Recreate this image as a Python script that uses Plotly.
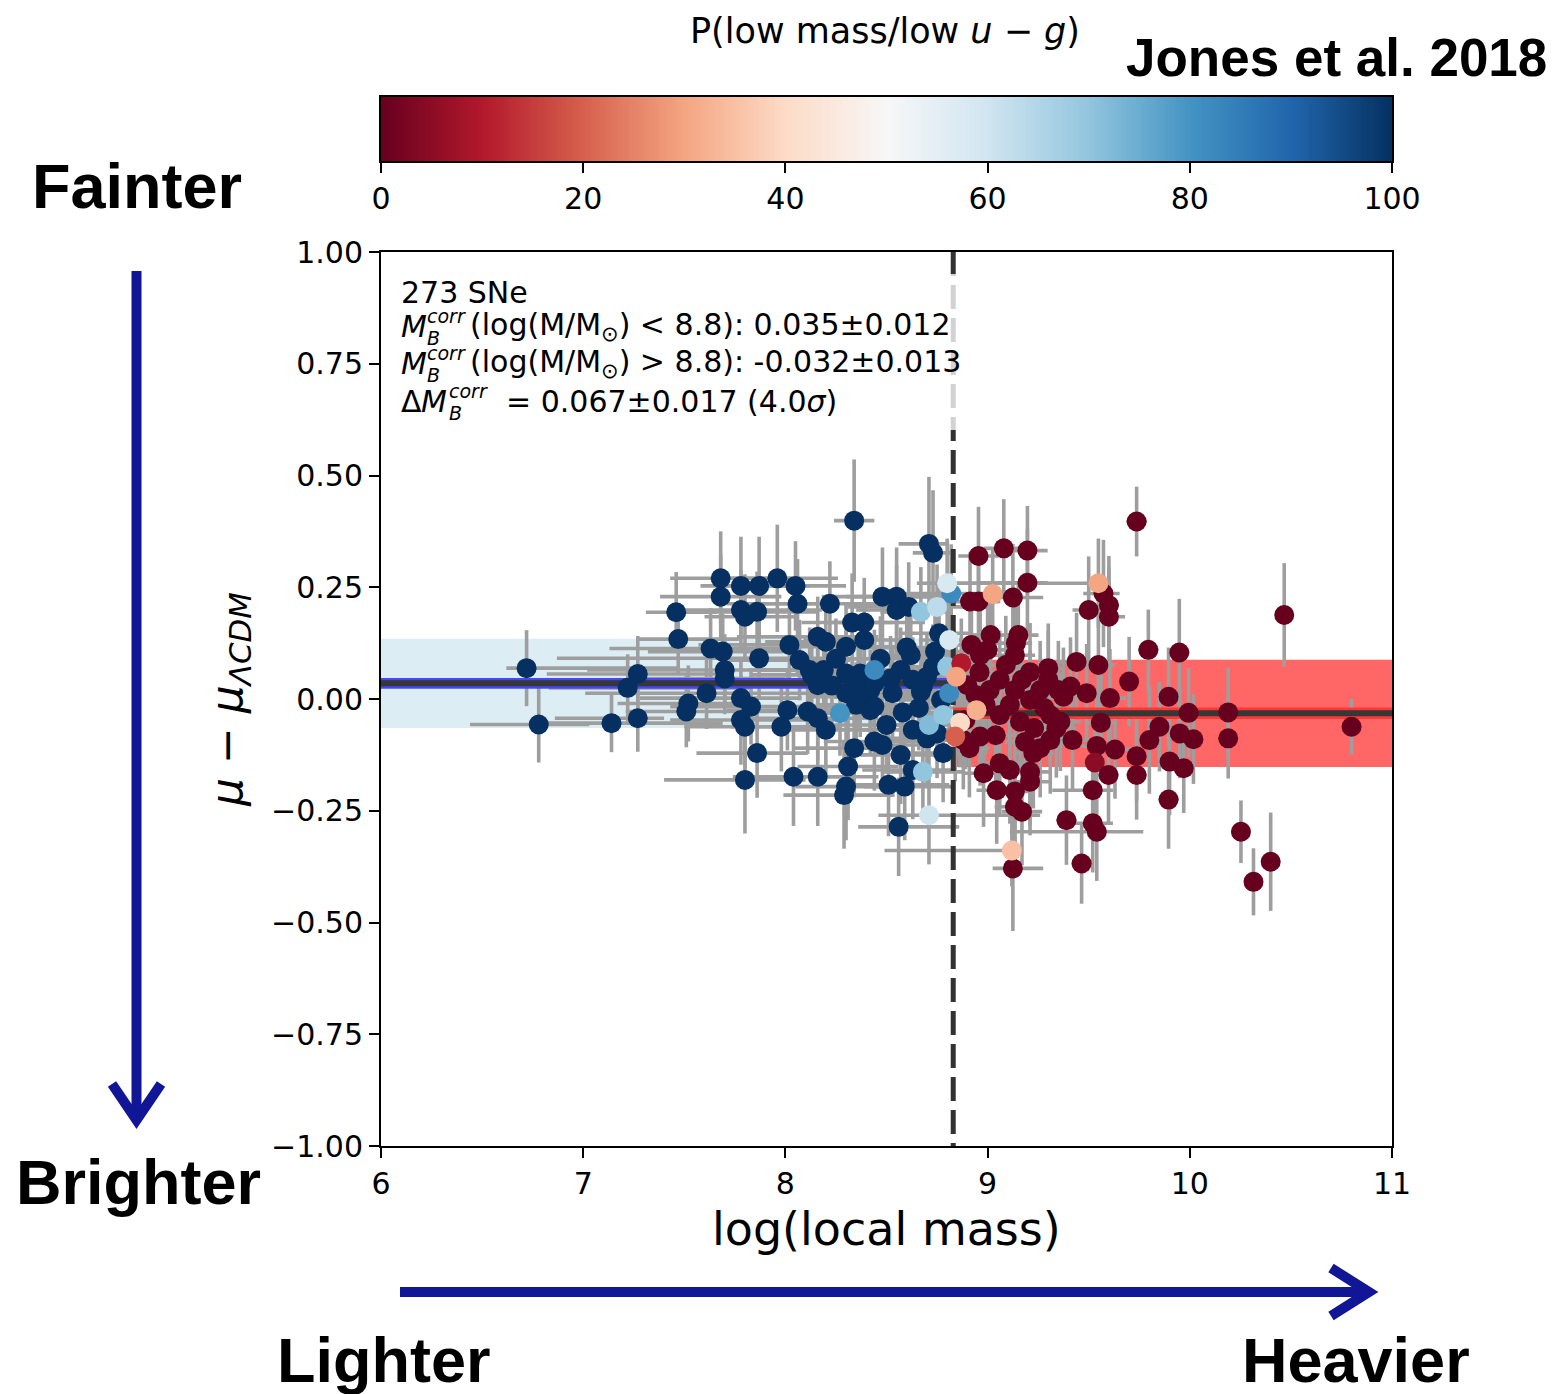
import plotly.graph_objects as go

# ---------------- data ----------------
# Low-mass hosts: local mass, asymmetric mass errors, Hubble residual, its error,
# and P(low mass / low u-g) in percent.
lo_mass = [6.72, 6.78, 7.14, 7.22, 7.27, 7.27, 7.46, 7.47, 7.68, 7.68,
           7.78, 7.87, 7.96, 8.05, 8.06, 7.78, 7.80, 7.86, 8.22, 8.34,
           8.71, 8.73, 8.48, 8.55, 8.55, 8.61, 8.33, 8.39, 8.39, 8.16,
           8.20, 8.02, 8.60, 8.76, 7.63, 7.69, 7.87, 7.70, 7.70, 8.07,
           8.12, 8.19, 8.16, 8.13, 8.30, 8.30, 8.30, 8.37, 8.36, 8.42,
           8.44, 8.37, 8.35, 8.42, 8.44, 8.52, 8.57, 8.63, 8.68, 8.67,
           8.53, 8.73, 8.77, 7.61, 7.52, 7.51, 7.78, 7.83, 7.78, 7.80,
           8.01, 7.98, 8.11, 8.16, 8.20, 8.50, 8.63, 8.70, 8.75, 8.44,
           8.34, 8.48, 8.57, 8.78, 7.86, 8.31, 8.63, 7.80, 8.04, 8.16,
           8.30, 8.29, 8.51, 8.59, 8.56, 8.62, 8.74, 8.70, 8.58, 8.66,
           8.47, 8.25, 8.23,
           8.82, 8.67, 8.75, 8.44, 8.81, 8.27, 8.71, 8.68, 8.71, 8.80,
           8.81, 8.80, 8.78]
lo_mass_err_minus = [0.10, 0.34, 0.40, 0.39, 0.45, 0.41, 0.15, 0.20, 0.25, 0.30,
                     0.20, 0.20, 0.25, 0.30, 0.35, 0.30, 0.20, 0.25, 0.40, 0.10,
                     0.15, 0.10, 0.30, 0.25, 0.20, 0.30, 0.25, 0.20, 0.30, 0.40,
                     0.30, 0.45, 0.20, 0.20, 0.50, 0.37, 1.00, 0.68, 0.45, 0.35,
                     0.30, 0.35, 0.40, 0.30, 0.30, 0.25, 0.30, 0.20, 0.25, 0.20,
                     0.30, 0.25, 0.20, 0.25, 0.30, 0.20, 0.20, 0.25, 0.20, 0.25,
                     0.30, 0.15, 0.25, 0.60, 0.35, 0.30, 0.50, 0.40, 0.35, 0.30,
                     0.30, 0.25, 0.30, 0.35, 0.25, 0.30, 0.25, 0.20, 0.15, 0.25,
                     0.30, 0.20, 0.20, 0.20, 0.30, 0.25, 0.25, 0.40, 0.30, 0.30,
                     0.25, 0.30, 0.25, 0.20, 0.20, 0.20, 0.20, 0.20, 0.25, 0.20,
                     0.25, 0.30, 0.30,
                     0.30, 0.20, 0.15, 0.25, 0.20, 0.30, 0.20, 0.20, 0.25, 0.15,
                     0.15, 0.20, 0.15]
lo_mass_err_plus = [0.75, 0.25, 0.55, 0.60, 0.40, 0.13, 0.20, 0.30, 0.35, 0.30,
                    0.30, 0.25, 0.30, 0.25, 0.20, 0.40, 0.25, 0.30, 0.35, 0.10,
                    0.10, 0.10, 0.25, 0.30, 0.25, 0.20, 0.20, 0.30, 0.20, 0.30,
                    0.25, 0.30, 0.25, 0.15, 0.35, 0.30, 0.35, 0.40, 0.30, 0.25,
                    0.30, 0.20, 0.30, 0.25, 0.25, 0.30, 0.20, 0.25, 0.20, 0.25,
                    0.30, 0.25, 0.30, 0.20, 0.20, 0.25, 0.25, 0.20, 0.15, 0.20,
                    0.20, 0.20, 0.20, 0.40, 0.30, 0.35, 0.30, 0.30, 0.35, 0.25,
                    0.30, 0.30, 0.25, 0.30, 0.25, 0.20, 0.25, 0.20, 0.20, 0.25,
                    0.20, 0.25, 0.20, 0.15, 0.25, 0.25, 0.20, 0.30, 0.30, 0.30,
                    0.25, 0.25, 0.30, 0.25, 0.30, 0.20, 0.15, 0.20, 0.20, 0.20,
                    0.25, 0.25, 0.25,
                    0.20, 0.15, 0.20, 0.20, 0.15, 0.25, 0.20, 0.20, 0.55, 0.15,
                    0.15, 0.15, 0.15]
lo_resid = [0.069, -0.057, -0.054, 0.025, 0.056, -0.043, 0.194, 0.134, 0.270, 0.229,
            0.253, 0.253, 0.270, 0.253, 0.213, 0.199, 0.184, 0.195, 0.213, 0.399,
            0.347, 0.327, 0.229, 0.229, 0.199, 0.206, 0.171, 0.171, 0.132, 0.139,
            0.128, 0.121, 0.115, 0.147, 0.113, 0.106, 0.091, 0.065, 0.046, 0.087,
            0.065, 0.065, 0.031, 0.054, 0.117, 0.057, 0.013, 0.057, 0.028, 0.020,
            0.035, 0.005, -0.013, -0.025, -0.017, 0.046, 0.065, 0.043, 0.028, 0.016,
            0.013, 0.072, -0.002, 0.013, -0.010, -0.028, 0.002, -0.017, -0.047, -0.062,
            -0.025, -0.062, -0.028, -0.043, -0.069, -0.058, -0.069, -0.088, -0.077, -0.095,
            -0.110, -0.103, -0.125, -0.121, -0.121, -0.151, -0.159, -0.181, -0.174, -0.174,
            -0.196, -0.215, -0.192, -0.196, -0.286, 0.098, 0.106, 0.050, -0.030, -0.020,
            0.090, 0.090, 0.030,
            0.236, 0.195, 0.206, 0.065, 0.013, -0.032, -0.058, -0.163, -0.260, 0.259,
            0.132, 0.072, -0.036]
lo_resid_err = [0.085, 0.085, 0.065, 0.075, 0.085, 0.075, 0.090, 0.080, 0.105, 0.095,
                0.110, 0.110, 0.120, 0.100, 0.100, 0.090, 0.095, 0.090, 0.095, 0.137,
                0.150, 0.140, 0.110, 0.110, 0.100, 0.100, 0.110, 0.100, 0.100, 0.090,
                0.095, 0.095, 0.105, 0.100, 0.090, 0.085, 0.090, 0.080, 0.080, 0.090,
                0.095, 0.090, 0.085, 0.090, 0.100, 0.095, 0.090, 0.090, 0.095, 0.090,
                0.095, 0.090, 0.095, 0.100, 0.100, 0.095, 0.095, 0.095, 0.090, 0.090,
                0.100, 0.095, 0.095, 0.080, 0.085, 0.080, 0.090, 0.085, 0.100, 0.095,
                0.090, 0.100, 0.095, 0.095, 0.100, 0.100, 0.100, 0.105, 0.100, 0.110,
                0.110, 0.105, 0.110, 0.110, 0.100, 0.120, 0.110, 0.120, 0.110, 0.110,
                0.120, 0.120, 0.115, 0.120, 0.110, 0.100, 0.100, 0.095, 0.100, 0.095,
                0.095, 0.090, 0.090,
                0.110, 0.100, 0.095, 0.090, 0.090, 0.095, 0.100, 0.110, 0.110, 0.100,
                0.100, 0.095, 0.095]
lo_prob = [100] * 103 + [82, 70, 63, 82, 82, 80, 72, 70, 60, 58, 58, 70, 70]

# High-mass hosts
hi_mass = [9.737, 8.955, 9.080, 9.197, 9.197, 9.573, 9.500, 9.600, 9.600, 8.913,
           8.955, 9.125, 9.015, 9.152, 9.140, 8.920, 8.963, 9.795, 9.948, 9.300,
           9.440, 9.548, 9.700, 9.895, 9.994, 10.19, 10.19, 10.018, 9.950, 9.850,
           9.800, 9.900, 9.970, 9.737, 9.737, 9.630, 9.540, 9.560, 9.530, 9.598,
           9.520, 9.895, 9.390, 9.520, 9.540, 9.465, 9.125, 9.375, 9.410, 9.490,
           9.605, 9.340, 9.310, 9.420, 9.226, 8.980, 9.060, 9.110, 9.210, 9.045,
           9.135, 9.135, 9.170, 9.210, 8.963, 8.880, 10.467, 10.80, 10.253, 10.315,
           10.40, 9.060, 9.135, 9.210, 8.990, 9.260, 9.060, 9.160, 9.010, 9.110,
           9.280, 9.230, 8.940, 9.040, 9.185, 8.890, 9.090, 9.210, 8.960, 9.310,
           9.135, 8.910, 9.260, 9.360, 9.350, 9.000, 9.170, 8.900, 9.300,
           9.548, 9.025, 8.870, 8.845, 8.945, 8.864, 9.120, 8.840]
hi_mass_err_minus = [0.05, 0.10, 0.10, 0.08, 0.25, 0.10, 0.08, 0.05, 0.05, 0.15,
                     0.20, 0.10, 0.10, 0.08, 0.10, 0.10, 0.10, 0.05, 0.05, 0.08,
                     0.10, 0.08, 0.05, 0.05, 0.05, 0.03, 0.03, 0.05, 0.05, 0.05,
                     0.05, 0.05, 0.05, 0.05, 0.05, 0.08, 0.08, 0.08, 0.05, 0.05,
                     0.20, 0.05, 0.05, 0.10, 0.43, 0.05, 0.10, 0.10, 0.10, 0.10,
                     0.08, 0.10, 0.10, 0.10, 0.10, 0.10, 0.10, 0.10, 0.10, 0.10,
                     0.10, 0.10, 0.10, 0.10, 0.10, 0.10, 0.03, 0.03, 0.03, 0.03,
                     0.03, 0.10, 0.10, 0.10, 0.10, 0.10, 0.10, 0.10, 0.10, 0.10,
                     0.10, 0.10, 0.10, 0.10, 0.10, 0.10, 0.10, 0.10, 0.10, 0.10,
                     0.10, 0.10, 0.10, 0.10, 0.10, 0.10, 0.10, 0.10, 0.10,
                     0.83, 0.10, 0.10, 0.10, 0.10, 0.10, 0.63, 0.10]
hi_mass_err_plus = [0.05, 0.10, 0.10, 0.10, 0.10, 0.08, 0.08, 0.05, 0.08, 0.15,
                    0.10, 0.15, 0.15, 0.10, 0.08, 0.10, 0.10, 0.05, 0.05, 0.08,
                    0.10, 0.08, 0.05, 0.05, 0.05, 0.03, 0.03, 0.05, 0.05, 0.05,
                    0.05, 0.05, 0.05, 0.05, 0.05, 0.08, 0.08, 0.08, 0.05, 0.05,
                    0.10, 0.05, 0.05, 0.10, 0.23, 0.05, 0.15, 0.10, 0.10, 0.10,
                    0.08, 0.10, 0.10, 0.10, 0.10, 0.10, 0.10, 0.10, 0.10, 0.10,
                    0.10, 0.10, 0.10, 0.10, 0.10, 0.10, 0.03, 0.03, 0.03, 0.03,
                    0.03, 0.10, 0.10, 0.10, 0.10, 0.10, 0.10, 0.10, 0.10, 0.10,
                    0.10, 0.10, 0.10, 0.10, 0.10, 0.10, 0.10, 0.10, 0.10, 0.10,
                    0.10, 0.10, 0.10, 0.10, 0.10, 0.10, 0.10, 0.10, 0.10,
                    0.05, 0.10, 0.10, 0.10, 0.10, 0.10, 0.05, 0.10]
hi_resid = [0.397, 0.320, 0.337, 0.332, 0.260, 0.236, 0.199, 0.210, 0.184, 0.218,
            0.218, 0.227, 0.143, 0.143, 0.125, 0.121, 0.098, 0.110, 0.104, 0.069,
            0.083, 0.076, 0.039, 0.005, -0.031, -0.030, -0.088, -0.090, -0.077, -0.062,
            -0.092, -0.140, -0.155, -0.128, -0.170, -0.113, -0.105, -0.053, -0.142, -0.170,
            -0.204, -0.225, -0.271, -0.278, -0.297, -0.368, -0.379, 0.005, 0.028, 0.013,
            0.002, -0.066, -0.092, -0.092, -0.121, -0.166, -0.144, -0.159, -0.163, -0.204,
            -0.207, -0.241, -0.252, -0.185, -0.084, -0.092, 0.188, -0.062, -0.297, -0.409,
            -0.364, 0.043, 0.020, -0.002, -0.013, 0.020, -0.036, -0.051, 0.020, -0.013,
            -0.020, -0.065, 0.009, -0.081, -0.096, -0.047, 0.076, 0.060, 0.060, -0.036,
            0.098, -0.110, -0.110, -0.051, 0.020, 0.110, 0.043, 0.031, 0.043,
            0.259, 0.235, 0.080, 0.050, -0.025, -0.053, -0.339, -0.084]
hi_resid_err = [0.078, 0.110, 0.110, 0.100, 0.120, 0.120, 0.120, 0.110, 0.110, 0.110,
                0.110, 0.120, 0.110, 0.120, 0.110, 0.100, 0.100, 0.090, 0.120, 0.100,
                0.110, 0.120, 0.100, 0.110, 0.100, 0.100, 0.090, 0.100, 0.100, 0.100,
                0.120, 0.120, 0.100, 0.100, 0.100, 0.110, 0.110, 0.110, 0.120, 0.110,
                0.110, 0.110, 0.100, 0.110, 0.110, 0.090, 0.140, 0.110, 0.110, 0.110,
                0.110, 0.110, 0.120, 0.110, 0.120, 0.120, 0.120, 0.120, 0.120, 0.120,
                0.120, 0.120, 0.120, 0.120, 0.110, 0.110, 0.116, 0.062, 0.070, 0.075,
                0.110, 0.110, 0.110, 0.110, 0.110, 0.110, 0.110, 0.110, 0.110, 0.110,
                0.110, 0.110, 0.110, 0.110, 0.110, 0.110, 0.110, 0.110, 0.110, 0.110,
                0.110, 0.110, 0.110, 0.110, 0.110, 0.110, 0.110, 0.110, 0.110,
                0.100, 0.100, 0.100, 0.100, 0.100, 0.100, 0.080, 0.100]
hi_prob = [0] * 38 + [5] + [0] * 60 + [30, 30, 10, 30, 32, 40, 35, 20]

# Step fit
mass_split = 8.83
lo_step, lo_step_err, lo_scatter = 0.035, 0.012, 0.10
hi_step, hi_step_err, hi_scatter = -0.032, 0.013, 0.12
x_min, x_max = 6, 11

x_ticks = [6, 7, 8, 9, 10, 11]
y_ticks = [-1.0, -0.75, -0.5, -0.25, 0.0, 0.25, 0.5, 0.75, 1.0]
y_tick_text = ["\u22121.00", "\u22120.75", "\u22120.50", "\u22120.25",
               "0.00", "0.25", "0.50", "0.75", "1.00"]
cbar_ticks = [0, 20, 40, 60, 80, 100]

# matplotlib RdBu
rdbu = [[0.0, "rgb(103,0,31)"], [0.1, "rgb(178,24,43)"], [0.2, "rgb(214,96,77)"],
        [0.3, "rgb(244,165,130)"], [0.4, "rgb(253,219,199)"], [0.5, "rgb(247,247,247)"],
        [0.6, "rgb(209,229,240)"], [0.7, "rgb(146,197,222)"], [0.8, "rgb(67,147,195)"],
        [0.9, "rgb(33,102,172)"], [1.0, "rgb(5,48,97)"]]

W, H = 1553, 1394


def px(v):
    return v / W


def py(v):
    return 1 - v / H


FONT = "DejaVu Sans"
BOLD = "Liberation Sans"
NAVY = "rgb(16,22,150)"

mass = lo_mass + hi_mass
mass_m = lo_mass_err_minus + hi_mass_err_minus
mass_p = lo_mass_err_plus + hi_mass_err_plus
resid = lo_resid + hi_resid
resid_err = lo_resid_err + hi_resid_err
prob = lo_prob + hi_prob

fig = go.Figure()


def band(x0, x1, yc, half, color):
    fig.add_trace(go.Scatter(
        x=[x0, x1, x1, x0, x0],
        y=[yc - half, yc - half, yc + half, yc + half, yc - half],
        mode="lines", fill="toself", fillcolor=color,
        line=dict(width=0), hoverinfo="skip", showlegend=False))


# intrinsic-scatter bands
band(x_min, mass_split, lo_step, lo_scatter, "rgb(221,237,244)")
band(mass_split, x_max, hi_step, hi_scatter, "rgb(255,102,102)")

# error bars
fig.add_trace(go.Scatter(
    x=mass, y=resid, mode="markers",
    marker=dict(size=1, opacity=0),
    error_x=dict(type="data", symmetric=False, array=mass_p, arrayminus=mass_m,
                 color="rgb(158,158,158)", thickness=3.6, width=0),
    error_y=dict(type="data", array=resid_err,
                 color="rgb(158,158,158)", thickness=3.6, width=0),
    hoverinfo="skip", showlegend=False))

# step means with their uncertainties
band(x_min, mass_split, lo_step, lo_step_err, "rgb(70,70,250)")
band(mass_split, x_max, hi_step, hi_step_err, "rgb(255,55,55)")
fig.add_trace(go.Scatter(x=[x_min, mass_split], y=[lo_step, lo_step], mode="lines",
                         line=dict(color="rgb(55,55,55)", width=6),
                         hoverinfo="skip", showlegend=False))
fig.add_trace(go.Scatter(x=[mass_split, x_max], y=[hi_step, hi_step], mode="lines",
                         line=dict(color="rgb(55,55,55)", width=6),
                         hoverinfo="skip", showlegend=False))

# mass split
fig.add_trace(go.Scatter(x=[mass_split, mass_split], y=[1, -1], mode="lines",
                         line=dict(color="rgb(50,50,50)", width=5, dash="24px,9px"),
                         hoverinfo="skip", showlegend=False))

# SNe coloured by probability
fig.add_trace(go.Scatter(
    x=mass, y=resid, mode="markers",
    marker=dict(size=20, color=prob, cmin=0, cmax=100, colorscale=rdbu,
                line=dict(width=0), showscale=False),
    hoverinfo="skip", showlegend=False))

# colour bar drawn as a one-row heatmap on its own axes
cbar_vals = [i * 0.25 for i in range(401)]
fig.add_trace(go.Heatmap(
    x=cbar_vals, y=[0], z=[cbar_vals], zmin=0, zmax=100, colorscale=rdbu,
    showscale=False, hoverinfo="skip", xaxis="x2", yaxis="y2"))

# pixel-space overlay used to place the free text
fig.add_trace(go.Scatter(x=[0], y=[0], mode="markers", marker=dict(size=1, opacity=0),
                         hoverinfo="skip", showlegend=False, xaxis="x3", yaxis="y3"))

tickfont = dict(family=FONT, size=30, color="black")
axis_common = dict(showgrid=False, zeroline=False, showline=True, linecolor="black",
                   linewidth=2, mirror=True, ticks="outside", ticklen=10, tickwidth=2,
                   tickcolor="black", tickfont=tickfont, automargin=False)

fig.update_layout(
    template="none",
    width=W, height=H, autosize=False,
    margin=dict(l=0, r=0, t=0, b=0, pad=0, autoexpand=False),
    font=dict(family=FONT, color="black"),
    paper_bgcolor="white", plot_bgcolor="rgba(0,0,0,0)",
    xaxis=dict(domain=[px(381), px(1392)], range=[x_min, x_max],
               tickvals=x_ticks, **axis_common),
    yaxis=dict(domain=[py(1146), py(252)], range=[-1, 1],
               tickvals=y_ticks, ticktext=y_tick_text, **axis_common),
    xaxis2=dict(domain=[px(381), px(1392)], range=[0, 100], anchor="y2",
                tickvals=cbar_ticks, **axis_common),
    yaxis2=dict(domain=[py(161), py(97)], range=[-0.5, 0.5], anchor="x2",
                showgrid=False, zeroline=False, showline=True, linecolor="black",
                linewidth=2, mirror=True, ticks="", showticklabels=False,
                automargin=False),
    xaxis3=dict(domain=[0, 1], range=[0, W], anchor="y3", visible=False,
                fixedrange=True, automargin=False),
    yaxis3=dict(domain=[0, 1], range=[H, 0], anchor="x3", visible=False,
                fixedrange=True, automargin=False),
)

# translucent box behind the fit summary
fig.add_shape(type="rect", xref="paper", yref="paper",
              x0=px(392), x1=px(985), y0=py(430), y1=py(274),
              fillcolor="rgba(255,255,255,0.78)", line=dict(width=0), layer="above")


def text(x, y, s, size, family=FONT, xanchor="left", color="black", angle=0):
    fig.add_annotation(x=x, y=y, xref="x3", yref="y3", text=s,
                       showarrow=False, xanchor=xanchor, yanchor="middle",
                       textangle=angle, borderpad=0,
                       font=dict(family=family, size=size, color=color))


# fit summary
TS, SS = 30, 19
text(400, 292, "273 SNe", TS)
for yc, rest in [(326, "(log(M/M<sub>\u2299</sub>) &lt; 8.8): 0.035\u00b10.012"),
                 (363, "(log(M/M<sub>\u2299</sub>) &gt; 8.8): -0.032\u00b10.013")]:
    text(400, yc, "<i>M</i>", TS)
    text(426, yc - 10, "<i>corr</i>", SS)
    text(426, yc + 12, "<i>B</i>", SS)
    text(469, yc, rest, TS)
yc = 401
text(400, yc, "\u0394", TS)
text(420, yc, "<i>M</i>", TS)
text(448, yc - 10, "<i>corr</i>", SS)
text(448, yc + 12, "<i>B</i>", SS)
text(505, yc, "= 0.067\u00b10.017 (4.0<i>\u03c3</i>)", TS)

# axis titles
text(886, 1229, "log(local mass)", 46, xanchor="center")
text(229, 700, "<i>\u03bc</i> \u2212 <i>\u03bc</i><sub><i>\u039bCDM</i></sub>", 44,
     xanchor="center", angle=-90)

# colour-bar title
text(885, 31, "P(low mass/low <i>u</i> \u2212 <i>g</i>)", 35, xanchor="center")

# headline labels
text(1336, 57, "<b>Jones et al. 2018</b>", 53, family=BOLD, xanchor="center")
text(137, 186, "<b>Fainter</b>", 63, family=BOLD, xanchor="center")
text(138, 1182, "<b>Brighter</b>", 63, family=BOLD, xanchor="center")
text(384, 1360, "<b>Lighter</b>", 63, family=BOLD, xanchor="center")
text(1356, 1360, "<b>Heavier</b>", 63, family=BOLD, xanchor="center")

# direction arrows
arrow_line = dict(color=NAVY, width=10)
fig.add_shape(type="line", xref="paper", yref="paper",
              x0=px(136.5), x1=px(136.5), y0=py(271), y1=py(1118), line=arrow_line)
fig.add_shape(type="path", xref="paper", yref="paper",
              path=f"M {px(112)},{py(1084)} L {px(136.5)},{py(1120)} L {px(161)},{py(1084)}",
              line=arrow_line)
fig.add_shape(type="line", xref="paper", yref="paper",
              x0=px(400), x1=px(1368), y0=py(1292), y1=py(1292), line=arrow_line)
fig.add_shape(type="path", xref="paper", yref="paper",
              path=f"M {px(1331)},{py(1268)} L {px(1369)},{py(1292)} L {px(1331)},{py(1316)}",
              line=arrow_line)

fig.write_html("out.html")
